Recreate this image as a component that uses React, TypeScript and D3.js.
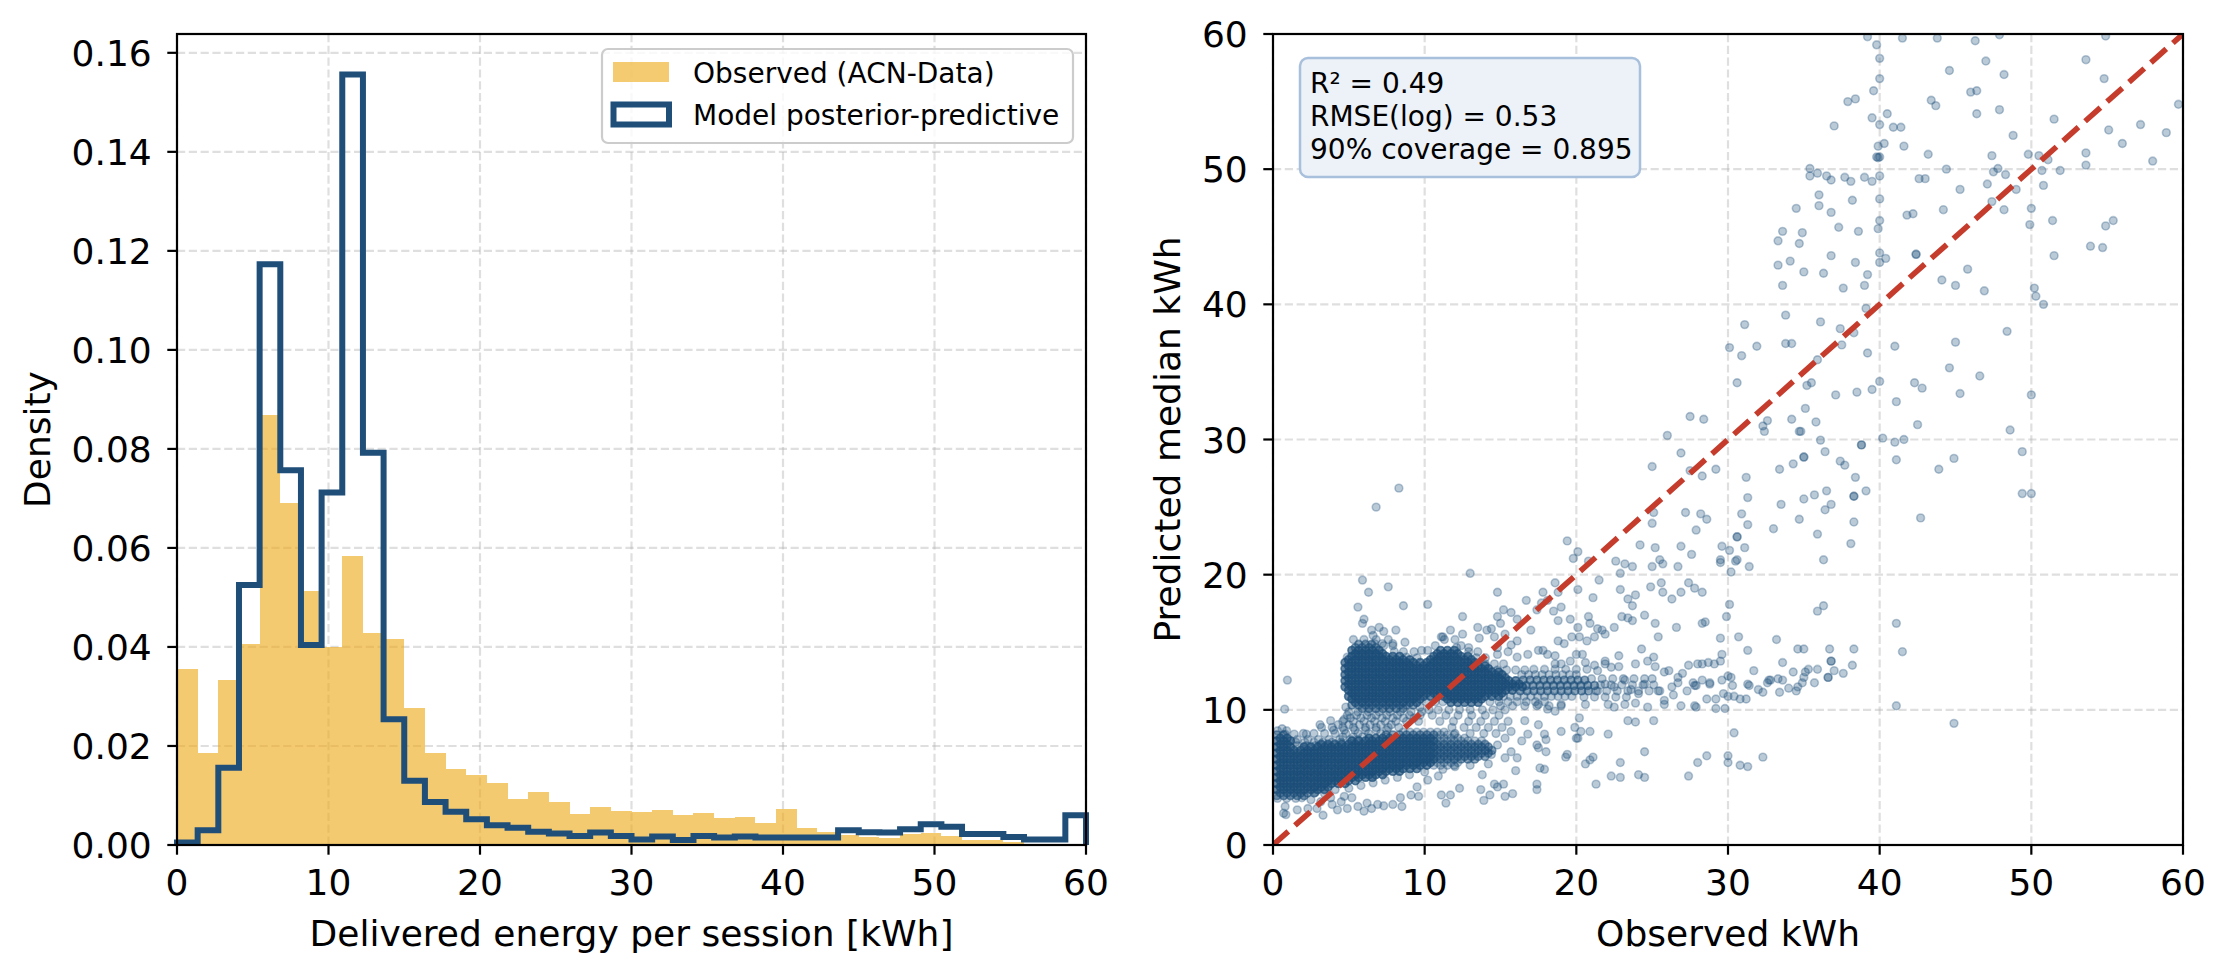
import * as d3 from "d3";
import { useEffect } from "react";

const W = 2220;
const H = 972;
const FONT = "'DejaVu Sans', Verdana, sans-serif";

// ---------- left panel: delivered energy histogram ----------
const energyDomain: [number, number] = [0, 60];
const binCount = 44;
const observedDensity = [
    0.0355, 0.0185, 0.0333, 0.0405, 0.0868, 0.069, 0.0514, 0.0399, 0.0584, 0.0428, 0.0417,
    0.0277, 0.0186, 0.0153, 0.0141, 0.0126, 0.0092, 0.0108, 0.0086, 0.0062, 0.0077, 0.0068,
    0.0067, 0.007, 0.006, 0.0065, 0.0055, 0.0056, 0.0045, 0.0073, 0.0034, 0.0027, 0.002,
    0.0016, 0.0015, 0.0022, 0.0025, 0.0018, 0.0011, 0.0011, 0.0007, 0.0003, 0.0003, 0.0002,
];
const modelDensity = [
    0.0005, 0.003, 0.0156, 0.0525, 0.1173, 0.0757, 0.0404, 0.0712, 0.1556, 0.0792, 0.0254,
    0.013, 0.0087, 0.0067, 0.0052, 0.004, 0.0035, 0.0027, 0.0023, 0.0018, 0.0025, 0.0018,
    0.0011, 0.0017, 0.001, 0.0018, 0.0015, 0.0017, 0.0015, 0.0015, 0.0015, 0.0015, 0.003,
    0.0026, 0.0025, 0.0032, 0.0042, 0.0037, 0.0022, 0.0022, 0.0016, 0.0011, 0.0011, 0.006,
];
const densityTicks = [0, 0.02, 0.04, 0.06, 0.08, 0.1, 0.12, 0.14, 0.16];
const kwhTicks = [0, 10, 20, 30, 40, 50, 60];
const legendLabels = ["Observed (ACN-Data)", "Model posterior-predictive"];

// ---------- right panel: observed vs predicted ----------
const statsLines = ["R² = 0.49", "RMSE(log) = 0.53", "90% coverage = 0.895"];

type Pt = [number, number];

// sparse upper cloud (x >= 24, y >= 22)
const scatterUpper: Pt[] = [
    [39.2, 59.8], [39.8, 59.2], [41.5, 59.7], [43.8, 59.7], [46.3, 59.5], [47.9, 59.95], [54.9, 59.85],
    [40.0, 58.2], [47.0, 58.0], [53.6, 58.1], [44.6, 57.3], [48.2, 57.0], [40.0, 56.7], [54.8, 56.7],
    [39.6, 55.8], [46.0, 55.7], [46.4, 55.8], [37.9, 55.0], [38.4, 55.2], [43.4, 55.1], [43.7, 54.7],
    [59.7, 54.8], [47.9, 54.4], [46.4, 54.1], [40.5, 54.1], [39.5, 53.8], [51.5, 53.7], [40.0, 53.3],
    [37.0, 53.2], [40.9, 53.1], [41.4, 53.1], [57.2, 53.3], [55.1, 52.9], [58.9, 52.7], [48.8, 52.5],
    [39.9, 51.7], [40.3, 51.9], [41.6, 51.7], [56.0, 51.9], [39.8, 50.9], [40.0, 50.9], [39.9, 50.85],
    [43.2, 51.1], [47.4, 51.0], [49.8, 51.1], [50.5, 51.0], [51.1, 50.7], [53.6, 51.2], [53.6, 50.3],
    [58.0, 50.6], [35.4, 50.05], [35.4, 49.5], [35.9, 49.7], [36.5, 49.5], [36.8, 49.2], [37.7, 49.4],
    [38.1, 49.1], [39.0, 49.4], [39.5, 49.1], [40.0, 49.5], [42.6, 49.3], [43.0, 49.3], [44.4, 50.0],
    [47.5, 49.8], [47.8, 50.05], [48.3, 49.6], [50.7, 49.9], [51.9, 49.9], [47.1, 48.9], [49.0, 48.5],
    [50.8, 48.8], [45.3, 48.5], [36.0, 48.1], [40.0, 47.8], [38.2, 47.7], [36.0, 47.3], [34.5, 47.1],
    [36.8, 46.8], [44.2, 47.0], [47.4, 47.6], [48.2, 47.0], [50.0, 47.1], [41.8, 46.6], [42.2, 46.7],
    [40.0, 46.2], [39.9, 45.6], [49.9, 45.9], [51.4, 46.2], [54.9, 45.8], [55.4, 46.2], [37.3, 45.7],
    [38.6, 45.4], [33.6, 45.4], [34.9, 45.3], [33.3, 44.7], [34.7, 44.5], [53.9, 44.3], [54.7, 44.2],
    [51.5, 43.6], [36.8, 43.6], [40.0, 43.8], [40.4, 43.4], [40.0, 43.1], [42.4, 43.7], [42.4, 43.7],
    [38.4, 43.1], [33.3, 42.9], [34.1, 43.2], [35.0, 42.4], [36.3, 42.3], [39.2, 42.2], [45.8, 42.6],
    [33.6, 41.4], [37.6, 41.2], [39.0, 41.4], [44.1, 41.8], [45.0, 41.4], [46.9, 41.0], [50.2, 41.2],
    [50.3, 40.6], [50.8, 40.0], [39.1, 39.7], [33.8, 39.2], [36.1, 38.7], [31.1, 38.5], [37.4, 38.2],
    [38.3, 37.9], [48.4, 38.0], [45.0, 37.2], [33.8, 37.1], [34.2, 37.1], [37.5, 37.0], [30.1, 36.8],
    [30.9, 36.2], [31.9, 36.9], [41.0, 36.9], [39.2, 36.4], [35.9, 35.9], [44.6, 35.3], [46.6, 34.7],
    [30.6, 34.2], [35.2, 34.0], [35.5, 34.2], [40.0, 34.3], [42.3, 34.2], [42.8, 33.8], [37.1, 33.3],
    [38.5, 33.5], [39.5, 33.7], [45.3, 33.4], [50.0, 33.3], [41.1, 32.8], [35.1, 32.3], [27.5, 31.7],
    [28.4, 31.5], [32.6, 31.4], [32.3, 31.0], [32.4, 30.6], [34.2, 31.5], [35.8, 31.3], [34.7, 30.6],
    [34.8, 30.6], [42.5, 31.1], [48.6, 30.7], [26.0, 30.3], [36.1, 29.95], [36.4, 29.1], [40.2, 30.1],
    [41.0, 29.8], [41.6, 30.0], [38.8, 29.6], [38.8, 29.6], [26.9, 29.0], [49.4, 29.1], [35.0, 28.7],
    [35.0, 28.7], [44.9, 28.6], [41.1, 28.5], [37.4, 28.4], [37.7, 28.1], [34.3, 28.2], [33.4, 27.8],
    [25.0, 28.0], [27.5, 27.7], [28.3, 27.3], [29.2, 27.8], [43.9, 27.8], [31.2, 27.2], [38.4, 27.2],
    [49.4, 26.0], [50.0, 26.0], [36.5, 26.2], [35.7, 25.9], [35.0, 25.6], [38.3, 25.8], [38.3, 25.8],
    [39.1, 26.2], [31.3, 25.7], [33.5, 25.2], [36.8, 25.2], [36.4, 24.8], [25.1, 24.6], [27.2, 24.6],
    [28.2, 24.5], [28.6, 24.1], [25.0, 23.8], [30.9, 24.5], [34.7, 24.1], [42.7, 24.2], [27.9, 23.3],
    [31.3, 23.7], [33.0, 23.4], [38.3, 23.9], [30.6, 22.8], [30.6, 22.8], [35.9, 23.0], [38.1, 22.3],
];

// right tail of the 12 kWh band (x >= 28.5, y < 22)
const scatterRight: Pt[] = [
    [29.6, 22.1], [30.1, 21.8], [31.1, 22.0], [29.5, 20.9], [29.5, 21.1], [30.6, 21.1], [30.5, 21.0],
    [30.2, 20.2], [31.4, 20.6], [36.3, 21.1], [30.1, 17.8], [29.9, 16.9], [28.5, 16.5], [35.9, 17.3],
    [36.3, 17.7], [41.1, 16.4], [29.5, 15.3], [30.7, 15.4], [33.2, 15.2], [31.3, 14.4], [34.6, 14.5],
    [35.0, 14.5], [36.7, 14.5], [38.3, 14.5], [41.5, 14.3], [29.6, 14.1], [29.5, 13.6], [28.7, 13.5],
    [29.1, 13.4], [36.8, 13.6], [36.8, 13.6], [38.2, 13.3], [33.6, 13.5], [31.7, 12.9], [34.3, 12.8],
    [35.1, 12.8], [35.3, 13.0], [35.9, 13.0], [37.0, 12.9], [37.6, 12.7], [35.0, 12.4], [34.9, 12.0],
    [36.6, 12.4], [36.6, 12.4], [35.7, 12.0], [30.0, 12.5], [30.2, 12.4], [29.6, 12.2], [28.8, 12.0],
    [28.8, 11.9], [31.3, 11.9], [31.4, 11.8], [32.0, 11.5], [32.3, 11.3], [32.7, 12.2], [32.8, 12.2],
    [32.6, 12.0], [33.3, 12.3], [33.6, 12.2], [33.4, 11.3], [34.0, 11.6], [34.5, 11.4], [34.6, 11.7],
    [30.3, 11.8], [30.4, 11.0], [30.8, 10.8], [31.2, 10.8], [29.7, 11.2], [30.0, 11.0], [28.6, 10.8],
    [29.2, 10.8], [29.2, 10.1], [29.8, 10.1], [41.1, 10.3], [44.9, 9.0], [30.4, 8.3], [28.6, 6.6],
    [30.0, 6.6], [30.0, 6.1], [30.8, 5.9], [31.3, 5.8], [32.3, 6.5],
];

// scattered sessions around the dense core (x < 28.5)
const scatterMid: Pt[] = [
    [8.3, 26.4], [6.8, 25.0], [19.4, 22.5], [20.1, 21.7], [19.8, 21.2], [20.8, 21.0], [24.2, 22.2],
    [25.2, 22.0], [26.9, 22.1], [22.6, 21.0], [23.2, 20.8], [23.7, 20.6], [22.9, 20.1], [25.0, 20.6],
    [25.5, 21.1], [25.7, 20.8], [26.7, 20.6], [27.6, 21.5], [13.0, 20.1], [5.9, 19.6], [6.3, 18.7],
    [7.6, 19.1], [5.6, 17.6], [8.6, 17.7], [10.2, 17.8], [14.8, 18.7], [17.8, 18.7], [18.6, 19.4],
    [18.8, 18.7], [20.1, 18.9], [21.5, 19.6], [21.1, 18.3], [22.9, 18.9], [23.4, 18.2], [23.9, 18.5],
    [23.7, 17.7], [24.9, 19.1], [25.6, 19.4], [25.7, 18.7], [26.3, 18.2], [26.9, 18.7], [27.4, 19.4],
    [27.8, 19.0], [28.3, 18.7], [28.3, 16.4], [26.6, 16.1], [25.2, 16.4], [25.4, 15.4], [24.5, 17.0],
    [16.7, 18.1], [15.2, 17.4], [15.7, 17.2], [14.8, 16.9], [12.5, 16.9], [13.5, 16.1], [11.7, 15.9],
    [11.1, 15.4], [14.4, 16.0], [15.0, 16.4], [16.1, 16.7], [17.0, 15.9], [17.7, 17.9], [18.1, 18.1],
    [17.4, 17.4], [18.5, 17.3], [19.0, 17.6], [18.8, 16.6], [19.6, 16.7], [20.1, 16.1], [20.8, 16.9],
    [20.9, 16.4], [21.4, 16.0], [21.9, 15.6], [22.5, 16.1], [23.0, 16.9], [23.4, 16.8], [23.7, 16.6],
    [19.7, 15.4], [20.2, 15.4], [20.7, 15.1], [21.2, 15.4], [21.7, 15.9], [18.8, 15.1], [19.2, 14.9],
    [17.8, 14.4], [18.6, 14.0], [20.0, 14.1], [20.4, 14.1], [21.9, 13.6], [22.8, 14.0], [24.3, 14.5],
    [25.1, 13.9], [6.0, 16.7], [5.9, 16.4], [6.5, 15.9], [7.0, 16.1], [7.3, 15.8], [8.1, 15.9],
    [6.6, 15.5], [8.7, 15.0], [7.9, 14.9], [7.2, 14.9], [6.7, 14.9], [8.8, 13.9], [8.0, 14.3],
    [9.8, 14.4], [10.2, 14.4], [11.2, 15.4], [12.1, 14.6], [12.5, 15.6], [12.9, 14.6], [13.6, 15.3],
    [14.1, 15.9], [14.6, 15.4], [14.8, 14.6], [15.3, 15.6], [15.7, 14.8], [16.1, 15.1], [14.8, 14.1],
    [15.5, 14.3], [16.1, 13.9], [16.8, 14.1], [17.5, 14.4], [18.1, 14.1], [18.6, 13.4], [19.0, 13.4],
    [19.6, 13.6], [20.6, 13.5], [21.2, 13.3], [21.9, 13.4], [22.3, 13.15], [4.9, 13.9],
    [21.4, 11.4], [21.9, 11.9], [22.5, 11.7], [23.2, 12.2], [23.6, 11.5], [24.1, 11.2], [24.5, 11.9],
    [25.0, 12.3], [25.4, 11.4], [25.8, 10.7], [26.3, 11.7], [26.7, 12.0], [27.3, 11.4], [27.8, 11.8],
    [28.3, 12.2], [22.1, 10.4], [22.5, 10.2], [23.2, 10.4], [23.9, 10.5], [24.7, 10.2], [25.8, 10.4],
    [26.9, 10.3], [27.8, 10.3], [21.4, 12.9], [22.8, 13.2], [23.9, 13.4], [24.7, 13.6], [25.2, 13.2],
    [25.8, 12.8], [26.7, 12.4], [27.4, 13.3], [28.0, 13.4], [27.7, 12.0], [27.9, 11.8], [27.9, 10.2],
    [28.3, 13.4], [26.1, 12.9], [27.0, 12.7], [26.4, 11.1],
    [23.4, 9.2], [23.9, 9.1], [25.1, 9.2], [20.6, 10.4], [20.2, 9.4], [19.9, 8.7], [20.0, 7.9],
    [18.6, 9.9], [19.0, 10.4], [18.1, 10.05], [17.5, 10.4], [16.6, 9.2], [17.5, 8.9], [16.8, 8.2],
    [16.4, 7.7], [17.9, 8.2], [18.0, 6.9], [15.7, 8.4], [15.3, 7.9], [14.8, 7.4], [15.7, 6.9],
    [16.1, 6.45], [15.3, 6.45], [14.4, 6.7],
];

// below the 6 kWh band and the 3 kWh strip
const scatterLow: Pt[] = [
    [22.1, 8.2], [22.9, 6.1], [22.3, 5.1], [22.9, 5.0], [24.1, 5.2], [24.5, 5.0], [21.3, 4.5],
    [24.5, 6.9], [28.0, 6.1], [27.4, 5.1], [20.6, 6.0], [20.9, 6.3], [21.1, 6.5], [20.3, 8.4],
    [20.9, 8.4], [19.3, 6.5], [19.4, 6.7], [19.0, 8.4], [20.1, 7.9], [17.6, 5.7], [17.9, 5.6],
    [17.4, 4.5], [17.4, 4.1], [17.4, 7.4], [17.5, 7.2], [18.0, 7.8], [16.0, 5.5], [14.6, 4.5],
    [14.8, 4.3], [15.2, 4.5], [15.8, 3.8], [15.3, 3.6], [13.7, 4.1], [13.9, 3.3], [14.3, 3.7],
    [13.8, 5.2], [12.3, 4.2], [11.7, 3.7], [11.4, 3.1], [11.1, 3.7], [10.9, 5.1], [9.5, 4.3],
    [10.2, 4.8], [9.6, 3.6], [9.1, 3.7], [8.4, 3.5], [8.5, 2.85], [7.9, 3.0], [7.3, 2.9],
    [6.9, 3.0], [6.5, 2.7], [6.0, 2.5], [6.2, 3.1], [5.6, 2.85], [4.9, 2.7], [4.25, 2.6],
    [3.9, 3.0], [3.3, 2.2], [2.9, 2.7], [2.3, 2.7], [1.6, 2.6], [0.8, 2.85], [0.7, 2.35],
    [0.85, 2.25], [3.15, 3.2], [4.5, 3.2], [5.2, 3.5], [4.7, 3.6], [3.8, 3.5], [2.5, 3.35],
    [0.95, 12.2], [0.77, 10.05], [0.6, 8.6], [0.8, 8.2], [1.4, 8.2], [2.2, 8.2], [3.1, 8.9],
    [3.8, 9.2], [4.7, 9.3], [1.9, 3.5], [2.8, 3.9], [3.4, 3.8], [4.1, 4.1], [5.0, 4.2], [5.8, 4.4],
    [6.6, 4.6], [7.4, 4.8], [8.2, 5.0], [9.0, 5.2], [10.0, 5.4], [11.2, 5.6], [12.0, 5.8],
    [13.0, 5.9], [14.2, 6.0],
];

// dense cores, read row by row: [y, sessions stacked per position, x positions]
const upperCoreRows: [number, number, number[]][] = [
    [14.85, 2, [5.65, 6.1, 6.5]],
    [14.6, 2, [5.43, 5.88, 6.33, 6.78]],
    [14.4, 3, [5.2, 5.65, 6.1, 6.55, 7.0, 11.05, 11.5, 11.95]],
    [14.15, 3, [5.43, 5.88, 6.33, 6.78, 7.23, 10.83, 11.28, 11.73, 12.18]],
    [13.95, 3, [5.2, 5.65, 6.1, 6.55, 7.0, 7.45, 7.9, 8.35, 10.6, 11.05, 11.5, 11.95, 12.4, 12.85]],
    [13.7, 3, [4.98, 5.43, 5.88, 6.33, 6.78, 7.23, 7.68, 8.13, 8.58, 9.03, 10.38, 10.83, 11.28, 11.73, 12.18, 12.63, 13.08]],
    [13.5, 3, [4.75, 5.2, 5.65, 6.1, 6.55, 7.0, 7.45, 7.9, 8.35, 8.8, 9.25, 9.7, 10.15, 10.6, 11.05, 11.5, 11.95, 12.4, 12.85, 13.3]],
    [13.25, 3, [4.98, 5.43, 5.88, 6.33, 6.78, 7.23, 7.68, 8.13, 8.58, 9.03, 9.48, 9.93, 10.38, 10.83, 11.28, 11.73, 12.18, 12.63, 13.08, 13.53, 13.98]],
    [13.05, 3, [4.75, 5.2, 5.65, 6.1, 6.55, 7.0, 7.45, 7.9, 8.35, 8.8, 9.25, 9.7, 10.15, 10.6, 11.05, 11.5, 11.95, 12.4, 12.85, 13.3, 13.75, 14.2]],
    [12.8, 3, [4.98, 5.43, 5.88, 6.33, 6.78, 7.23, 7.68, 8.13, 8.58, 9.03, 9.48, 9.93, 10.38, 10.83, 11.28, 11.73, 12.18, 12.63, 13.08, 13.53, 13.98, 14.43, 14.88]],
    [12.6, 3, [4.75, 5.2, 5.65, 6.1, 6.55, 7.0, 7.45, 7.9, 8.35, 8.8, 9.25, 9.7, 10.15, 10.6, 11.05, 11.5, 11.95, 12.4, 12.85, 13.3, 13.75, 14.2, 14.65, 15.1]],
    [12.35, 3, [4.98, 5.43, 5.88, 6.33, 6.78, 7.23, 7.68, 8.13, 8.58, 9.03, 9.48, 9.93, 10.38, 10.83, 11.28, 11.73, 12.18, 12.63, 13.08, 13.53, 13.98, 14.43, 14.88, 15.33]],
    [12.15, 3, [4.75, 5.2, 5.65, 6.1, 6.55, 7.0, 7.45, 7.9, 8.35, 8.8, 9.25, 9.7, 10.15, 10.6, 11.05, 11.5, 11.95, 12.4, 12.85, 13.3, 13.75, 14.2, 14.65, 15.1, 15.55, 16.0]],
    [11.9, 3, [4.98, 5.43, 5.88, 6.33, 6.78, 7.23, 7.68, 8.13, 8.58, 9.03, 9.48, 9.93, 10.38, 10.83, 11.28, 11.73, 12.18, 12.63, 13.08, 13.53, 13.98, 14.43, 14.88, 15.33, 15.78, 16.23]],
    [11.7, 3, [4.75, 5.2, 5.65, 6.1, 6.55, 7.0, 7.45, 7.9, 8.35, 8.8, 9.25, 9.7, 10.15, 10.6, 11.05, 11.5, 11.95, 12.4, 12.85, 13.3, 13.75, 14.2, 14.65, 15.1, 15.55, 16.0, 16.45]],
    [11.45, 3, [4.98, 5.43, 5.88, 6.33, 6.78, 7.23, 7.68, 8.13, 8.58, 9.03, 9.48, 9.93, 10.38, 10.83, 11.28, 11.73, 12.18, 12.63, 13.08, 13.53, 13.98, 14.43, 14.88, 15.33, 15.78]],
    [11.25, 3, [5.2, 5.65, 6.1, 6.55, 7.0, 7.45, 7.9, 8.35, 8.8, 9.25, 9.7, 10.15, 10.6, 11.05, 11.5, 11.95, 12.4, 12.85, 13.3, 13.75, 14.2, 14.65, 15.1]],
    [11.0, 3, [4.98, 5.43, 5.88, 6.33, 6.78, 7.23, 7.68, 8.13, 8.58, 9.03, 9.48, 9.93, 10.38, 10.83, 11.28, 11.73, 12.18, 12.63, 13.08, 13.53, 13.98, 14.43, 14.88]],
    [10.8, 3, [5.2, 5.65, 6.1, 6.55, 7.0, 7.45, 7.9, 8.35, 8.8, 9.25, 9.7, 11.5, 11.95, 12.4, 12.85, 13.3, 13.75]],
    [10.55, 3, [5.43, 5.88, 6.33, 6.78, 7.23, 7.68, 8.13, 8.58, 9.03, 9.48, 11.73, 12.18, 12.63, 13.08, 13.53]],
    [10.35, 2, [5.2, 5.65, 6.1, 6.55, 7.0, 7.45, 7.9, 8.35, 8.8, 9.25]],
    [10.1, 2, [5.88, 6.33, 6.78, 7.23, 7.68, 8.13, 8.58]],
    // ragged edge of the upper core
    [15.2, 1, [5.3, 6.0, 6.8, 7.6, 11.3, 12.0]],
    [14.75, 1, [7.3, 7.9, 10.7, 12.4]],
    [14.3, 1, [8.6, 9.3, 12.9, 13.5]],
    [13.85, 1, [9.5, 13.4, 14.0]],
    [13.4, 1, [14.0, 14.6, 15.2]],
    [12.95, 1, [14.8, 15.4, 16.0, 16.6]],
    [10.6, 1, [10.1, 10.7, 11.2]],
    [10.2, 1, [4.8, 9.7]],
    // 11-12 kWh band fading towards 25 kWh
    [13.0, 1, [17.2, 17.9, 18.6, 19.3, 20.0, 20.7]],
    [12.6, 1, [16.4, 16.85, 17.3, 17.75, 18.2, 18.65, 19.1, 19.55, 20.0]],
    [12.2, 2, [16.5, 16.95, 17.4, 17.85, 18.3, 18.75, 19.2, 19.65, 20.1, 20.55]],
    [11.8, 2, [16.7, 17.15, 17.6, 18.05, 18.5, 18.95, 19.4, 19.85, 20.3, 20.75, 21.2]],
    [11.4, 2, [16.3, 16.75, 17.2, 17.65, 18.1, 18.55, 19.0, 19.45, 19.9, 20.35, 20.8]],
    [11.0, 1, [15.2, 15.65, 16.1, 16.55, 17.0, 17.45, 17.9, 18.35, 18.8, 19.25, 19.7]],
    [10.6, 1, [14.3, 14.9, 15.5, 16.1, 16.7, 17.3, 17.9]],
    [10.3, 1, [15.0, 15.8, 16.6, 17.4, 18.2, 19.0]],
    [12.3, 1, [21.0, 21.7, 22.4, 23.1, 23.8, 24.5]],
    [11.85, 1, [21.6, 22.3, 23.0, 23.7, 24.4, 25.1]],
    [11.4, 1, [21.3, 22.0, 22.7, 23.4, 24.1, 24.8, 25.5]],
    [10.95, 1, [20.5, 21.2, 21.9, 22.6, 23.3]],
];

const lowerCoreRows: [number, number, number[]][] = [
    [3.45, 1, [0.3, 0.9, 1.5]],
    [3.65, 2, [0.25, 0.7, 1.15, 1.6, 2.05]],
    [3.85, 2, [0.48, 0.93, 1.38, 1.83, 2.28, 2.73]],
    [4.1, 3, [0.25, 0.7, 1.15, 1.6, 2.05, 2.5, 2.95, 3.4]],
    [4.3, 3, [0.48, 0.93, 1.38, 1.83, 2.28, 2.73, 3.18, 3.63]],
    [4.55, 3, [0.25, 0.7, 1.15, 1.6, 2.05, 2.5, 2.95, 3.4, 3.85, 4.3, 4.75]],
    [4.75, 3, [0.48, 0.93, 1.38, 1.83, 2.28, 2.73, 3.18, 3.63, 4.08, 4.53, 4.98, 5.43]],
    [5.0, 3, [0.25, 0.7, 1.15, 1.6, 2.05, 2.5, 2.95, 3.4, 3.85, 4.3, 4.75, 5.2, 5.65, 6.1, 6.55]],
    [5.2, 3, [0.48, 0.93, 1.38, 1.83, 2.28, 2.73, 3.18, 3.63, 4.08, 4.53, 4.98, 5.43, 5.88, 6.33, 6.78, 7.23]],
    [5.45, 3, [0.25, 0.7, 1.15, 1.6, 2.05, 2.5, 2.95, 3.4, 3.85, 4.3, 4.75, 5.2, 5.65, 6.1, 6.55, 7.0, 7.45, 7.9, 8.35]],
    [5.65, 3, [0.48, 0.93, 1.38, 1.83, 2.28, 2.73, 3.18, 3.63, 4.08, 4.53, 4.98, 5.43, 5.88, 6.33, 6.78, 7.23, 7.68, 8.13, 8.58, 9.03, 9.48]],
    [5.9, 3, [0.25, 0.7, 1.15, 1.6, 2.05, 2.5, 2.95, 3.4, 3.85, 4.3, 4.75, 5.2, 5.65, 6.1, 6.55, 7.0, 7.45, 7.9, 8.35, 8.8, 9.25, 9.7, 10.15]],
    [6.1, 3, [0.48, 0.93, 1.38, 1.83, 2.28, 2.73, 3.18, 3.63, 4.08, 4.53, 4.98, 5.43, 5.88, 6.33, 6.78, 7.23, 7.68, 8.13, 8.58, 9.03, 9.48, 9.93, 10.38]],
    [6.35, 3, [0.25, 0.7, 1.15, 1.6, 2.05, 2.5, 2.95, 3.4, 3.85, 4.3, 4.75, 5.2, 5.65, 6.1, 6.55, 7.0, 7.45, 7.9, 8.35, 8.8, 9.25, 9.7, 10.15, 10.6]],
    [6.55, 3, [0.48, 0.93, 1.38, 1.83, 2.28, 2.73, 3.18, 3.63, 4.08, 4.53, 4.98, 5.43, 5.88, 6.33, 6.78, 7.23, 7.68, 8.13, 8.58, 9.03, 9.48, 9.93, 10.38]],
    [6.8, 3, [0.25, 0.7, 1.15, 1.6, 2.05, 2.5, 2.95, 3.4, 3.85, 4.3, 4.75, 5.2, 5.65, 6.1, 6.55, 7.0, 7.45, 7.9, 8.35, 8.8, 9.25, 9.7, 10.15, 10.6]],
    [7.0, 3, [0.48, 0.93, 1.38, 1.83, 2.28, 2.73, 3.18, 3.63, 4.08, 4.53, 4.98, 5.43, 5.88, 6.33, 6.78, 7.23, 7.68, 8.13, 8.58, 9.03, 9.48, 9.93, 10.38]],
    [7.25, 3, [0.25, 0.7, 1.15, 2.05, 2.5, 2.95, 3.4, 3.85, 4.3, 4.75, 5.2, 5.65, 6.1, 6.55, 7.0, 7.45, 7.9, 8.35, 8.8, 9.25, 9.7, 10.15, 10.6]],
    [7.45, 3, [0.48, 0.93, 3.18, 3.63, 4.08, 4.53, 4.98, 5.43, 5.88, 6.33, 6.78, 7.23, 7.68, 8.13, 8.58, 9.03, 9.48, 9.93, 10.38]],
    [7.7, 3, [0.25, 0.7, 1.15, 5.2, 5.65, 6.1, 6.55, 7.0, 7.45, 7.9, 8.35, 8.8, 9.25, 9.7, 10.15, 10.6]],
    [7.9, 3, [0.48, 0.93, 6.33, 6.78, 7.23, 7.68, 8.13, 8.58, 9.03, 9.48, 9.93, 10.38]],
    [8.15, 2, [0.25, 0.7, 7.45, 7.9, 8.35, 8.8, 9.25, 9.7, 10.15, 10.6]],
    [8.45, 1, [0.3, 0.9]],
    [7.6, 1, [1.5, 2.1, 2.7, 3.3, 3.9, 4.5]],
    [8.0, 1, [4.6, 5.3, 5.9]],
    // right end of the 6 kWh band, thinning out past 13 kWh
    [5.9, 1, [10.6, 11.05, 11.5, 11.95]],
    [6.1, 1, [10.83, 11.28, 11.73, 12.18]],
    [6.35, 2, [11.05, 11.5, 11.95, 12.4, 12.85, 13.3]],
    [6.55, 2, [10.83, 11.28, 11.73, 12.18, 12.63, 13.08, 13.53, 13.98]],
    [6.8, 2, [11.05, 11.5, 11.95, 12.4, 12.85, 13.3, 13.75, 14.2]],
    [7.0, 2, [10.83, 11.28, 11.73, 12.18, 12.63, 13.08, 13.53, 13.98, 14.43]],
    [7.25, 2, [11.05, 11.5, 11.95, 12.4, 12.85, 13.3, 13.75, 14.2]],
    [7.45, 2, [10.83, 11.28, 11.73, 12.18, 12.63, 13.08, 13.53, 13.98]],
    [7.7, 1, [11.05, 11.5, 11.95, 12.4, 12.85, 13.3, 13.75]],
    [7.9, 1, [10.83, 11.28, 11.73, 12.18, 12.63]],
    [8.15, 1, [11.05, 11.5, 11.95]],
    [8.35, 1, [8.58, 9.03, 9.48, 9.93, 10.38, 10.83, 11.28]],
    // between the two bands
    [10.0, 1, [10.3, 10.9, 11.6, 12.3, 13.0, 13.8, 14.5, 15.3]],
    [9.85, 1, [5.0, 5.6, 6.3, 7.0, 7.7, 8.4, 9.1, 9.8]],
    [9.6, 1, [4.9, 5.5, 6.2, 6.8, 7.5, 8.2, 9.0, 9.7, 10.5, 11.4, 12.2, 13.1, 14.0, 14.9]],
    [9.4, 1, [5.1, 5.8, 6.5, 7.2, 7.9, 8.6, 9.3]],
    [9.15, 1, [4.6, 5.3, 6.0, 6.7, 7.4, 8.1, 8.8, 9.6, 11.0, 11.9, 12.9, 13.7, 14.6, 15.5]],
    [8.9, 1, [4.3, 5.0, 5.7, 6.4, 7.1, 7.8]],
    [8.7, 1, [3.2, 3.9, 4.6, 5.3, 6.1, 6.8, 7.6, 8.3, 11.8, 12.6, 13.4, 14.2, 15.1]],
    [8.5, 1, [4.0, 4.7, 5.4, 6.1, 6.8, 7.5]],
    [8.25, 1, [2.0, 2.7, 3.4, 4.1, 4.8, 5.6, 6.3, 7.1, 12.0, 13.0, 13.9, 14.7]],
    [7.8, 1, [1.6, 2.3, 3.0, 3.7, 4.4, 5.1, 5.6]],
    [7.35, 1, [1.6, 2.2, 2.8]],
];

const colors = {
    observed: "#eea814",
    model: "#1f4e79",
    point: "#1f4e79",
    identity: "#c63c2c",
    grid: "#b0b0b0",
};

const boxL = { left: 177, right: 1086, top: 34, bottom: 845 };
const boxR = { left: 1273, right: 2183, top: 34, bottom: 845 };

const xL = d3.scaleLinear().domain(energyDomain).range([boxL.left, boxL.right]);
const yL = d3.scaleLinear().domain([0, 0.1638]).range([boxL.bottom, boxL.top]);
const xR = d3.scaleLinear().domain([0, 60]).range([boxR.left, boxR.right]);
const yR = d3.scaleLinear().domain([0, 60]).range([boxR.bottom, boxR.top]);

type Box = typeof boxL;
type Scale = d3.ScaleLinear<number, number>;

function Grid({ box, x, y, xTicks, yTicks }: { box: Box; x: Scale; y: Scale; xTicks: number[]; yTicks: number[] }) {
    const common = { stroke: colors.grid, strokeOpacity: 0.4, strokeWidth: 2.2, strokeDasharray: "8.2 3.6" };
    return (
        <g>
            {xTicks.map((t) => (
                <line key={`gx${t}`} x1={x(t)} x2={x(t)} y1={box.top} y2={box.bottom} {...common} />
            ))}
            {yTicks.map((t) => (
                <line key={`gy${t}`} x1={box.left} x2={box.right} y1={y(t)} y2={y(t)} {...common} />
            ))}
        </g>
    );
}

function Frame({ box, x, y, xTicks, yTicks, yFormat, xLabel, yLabel, yLabelX }: {
    box: Box; x: Scale; y: Scale; xTicks: number[]; yTicks: number[]; yFormat: (v: number) => string;
    xLabel: string; yLabel: string; yLabelX: number;
}) {
    const midX = (box.left + box.right) / 2;
    const midY = (box.top + box.bottom) / 2;
    return (
        <g fontFamily={FONT} fill="#000">
            <rect x={box.left} y={box.top} width={box.right - box.left} height={box.bottom - box.top} fill="none" stroke="#000" strokeWidth={2.2} />
            {xTicks.map((t) => (
                <g key={`tx${t}`}>
                    <line x1={x(t)} x2={x(t)} y1={box.bottom} y2={box.bottom + 9.7} stroke="#000" strokeWidth={2.2} />
                    <text x={x(t)} y={box.bottom + 50} fontSize={36} textAnchor="middle">{t}</text>
                </g>
            ))}
            {yTicks.map((t) => (
                <g key={`ty${t}`}>
                    <line x1={box.left - 9.7} x2={box.left} y1={y(t)} y2={y(t)} stroke="#000" strokeWidth={2.2} />
                    <text x={box.left - 25.3} y={y(t) + 13} fontSize={36} textAnchor="end">{yFormat(t)}</text>
                </g>
            ))}
            <text x={midX} y={946} fontSize={36} textAnchor="middle">{xLabel}</text>
            <text transform={`translate(${yLabelX},${midY}) rotate(-90)`} fontSize={36} textAnchor="middle">{yLabel}</text>
        </g>
    );
}

function HistogramPanel() {
    const edges = d3.range(binCount + 1).map((i) => energyDomain[0] + ((energyDomain[1] - energyDomain[0]) * i) / binCount);
    const stepPoints: Pt[] = [[edges[0], 0], ...modelDensity.map((v, i) => [edges[i], v] as Pt), [edges[binCount], modelDensity[binCount - 1]], [edges[binCount], 0]];
    const step = d3
        .line<Pt>()
        .x((d) => xL(d[0]))
        .y((d) => yL(d[1]))
        .curve(d3.curveStepAfter);

    return (
        <g>
            <Grid box={boxL} x={xL} y={yL} xTicks={kwhTicks} yTicks={densityTicks} />
            <g opacity={0.6}>
                {observedDensity.map((v, i) => (
                    <rect
                        key={i}
                        x={xL(edges[i])}
                        width={xL(edges[i + 1]) - xL(edges[i])}
                        y={yL(v)}
                        height={yL(0) - yL(v)}
                        fill={colors.observed}
                        shapeRendering="crispEdges"
                    />
                ))}
            </g>
            <path d={step(stepPoints) ?? ""} fill="none" stroke={colors.model} strokeWidth={6} strokeLinejoin="miter" />
            <Frame box={boxL} x={xL} y={yL} xTicks={kwhTicks} yTicks={densityTicks} yFormat={(v) => v.toFixed(2)}
                xLabel="Delivered energy per session [kWh]" yLabel="Density" yLabelX={50} />
            <g fontFamily={FONT}>
                <rect x={602} y={49} width={471} height={94} rx={6} fill="#fff" fillOpacity={0.8} stroke="#cccccc" strokeWidth={2.2} />
                <rect x={613} y={62} width={56} height={20} fill={colors.observed} fillOpacity={0.6} />
                <rect x={613.5} y={104.5} width={55.5} height={20} fill="none" stroke={colors.model} strokeWidth={6} />
                <text x={693} y={82.5} fontSize={28}>{legendLabels[0]}</text>
                <text x={693} y={125} fontSize={28}>{legendLabels[1]}</text>
            </g>
        </g>
    );
}

function ScatterPanel() {
    const rows = [...upperCoreRows, ...lowerCoreRows];
    const points: Pt[] = [
        ...scatterUpper,
        ...scatterRight,
        ...scatterMid,
        ...scatterLow,
        ...rows.flatMap(([y, k, xs]) => xs.flatMap((x) => d3.range(k).map(() => [x, y] as Pt))),
    ];
    const identity = d3.line<number>().x((d) => xR(d)).y((d) => yR(d));
    return (
        <g>
            <defs>
                <clipPath id="scatter-clip">
                    <rect x={boxR.left} y={boxR.top} width={boxR.right - boxR.left} height={boxR.bottom - boxR.top} />
                </clipPath>
            </defs>
            <Grid box={boxR} x={xR} y={yR} xTicks={kwhTicks} yTicks={kwhTicks} />
            <g clipPath="url(#scatter-clip)">
                {points.map((p, i) => (
                    <circle key={i} cx={xR(p[0])} cy={yR(p[1])} r={3.9} fill={colors.point} fillOpacity={0.3}
                        stroke={colors.point} strokeOpacity={0.3} strokeWidth={1.6} />
                ))}
                <path d={identity([0, 60]) ?? ""} stroke={colors.identity} strokeWidth={5.6} strokeDasharray="20.5 8.9" fill="none" />
            </g>
            <Frame box={boxR} x={xR} y={yR} xTicks={kwhTicks} yTicks={kwhTicks} yFormat={(v) => String(v)}
                xLabel="Observed kWh" yLabel="Predicted median kWh" yLabelX={1180} />
            <g fontFamily={FONT}>
                <rect x={1300} y={58} width={340} height={119} rx={8} fill="#ecf2f8" stroke="#a8c0dc" strokeWidth={2.5} />
                {statsLines.map((s, i) => (
                    <text key={s} x={1310} y={92.7 + i * 32.9} fontSize={28} fill="#000">{s}</text>
                ))}
            </g>
        </g>
    );
}

export default function App() {
    useEffect(() => {
        document.body.style.margin = "0";
    }, []);
    return (
        <svg width={W} height={H} viewBox={`0 0 ${W} ${H}`} style={{ position: "absolute", left: 0, top: 0, background: "#fff" }}>
            <rect width={W} height={H} fill="#fff" />
            <HistogramPanel />
            <ScatterPanel />
        </svg>
    );
}
